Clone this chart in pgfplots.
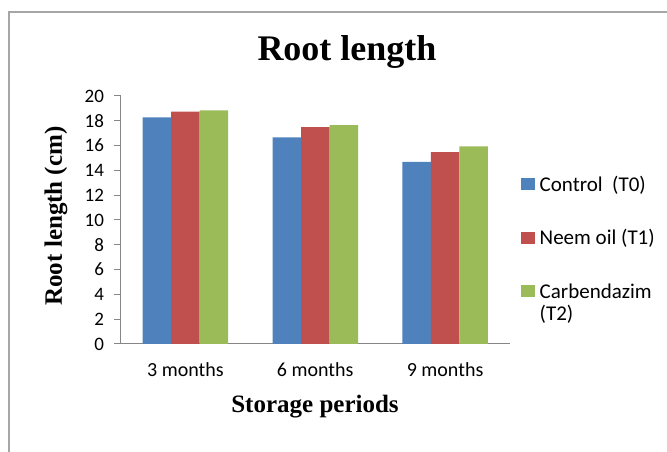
\documentclass[border=0pt]{standalone}
\usepackage{fontspec}
\setmainfont{Carlito}
\newfontfamily\tnr{Liberation Serif}
\usepackage{pgfplots}
\pgfplotsset{compat=1.18}
\definecolor{cblue}{HTML}{4F81BD}
\definecolor{cred}{HTML}{C0504D}
\definecolor{cgreen}{HTML}{9BBB59}
\definecolor{axgray}{HTML}{868686}
\definecolor{framegray}{HTML}{A6A6A6}
\begin{document}
\begin{tikzpicture}
\path[use as bounding box] (0pt,0pt) rectangle (667pt,452pt);
\draw[framegray, line width=2pt] (9pt,0pt) -- (9pt,440pt) -- (667pt,440pt);
\begin{axis}[
  at={(120.5pt,108pt)}, anchor=south west,
  scale only axis, width=389.5pt, height=248pt,
  ybar=0pt, bar width=28.5pt,
  xmin=-0.5, xmax=2.5, ymin=0, ymax=20,
  xtick=data, xticklabels={3 months,6 months,9 months},
  ytick={0,2,...,20},
  axis x line*=bottom, axis y line*=left,
  axis line style={axgray, line width=1pt, -},
  major x tick style={draw=none},
  ytick style={axgray, line width=1pt},
  tick align=outside, major tick length=6pt,
  /pgf/number format/assume math mode=true,
  yticklabel style={font=\fontsize{19}{22}\selectfont, xshift=-7pt},
  xticklabel style={font=\fontsize{20}{24}\selectfont, yshift=-9pt},
  legend style={draw=none, fill=none, at={(axis description cs:1,1)}, anchor=north west,
    xshift=8pt, yshift=-76pt, font=\fontsize{21}{25}\selectfont, row sep=34pt, column sep=3pt,
    nodes={inner sep=1.5pt}},
  legend cell align=left,
  legend image code/.code={\fill[#1] (0pt,-6pt) rectangle (14pt,6pt);},
]
\addplot[fill=cblue, draw=none] coordinates {(0,18.28) (1,16.67) (2,14.68)};
\addplot[fill=cred, draw=none] coordinates {(0,18.73) (1,17.48) (2,15.48)};
\addplot[fill=cgreen, draw=none] coordinates {(0,18.85) (1,17.66) (2,15.94)};
\addlegendentry{Control\ \ (T0)}
\addlegendentry{Neem oil (T1)}
\addlegendentry{\vtop{\baselineskip=22pt\hbox{Carbendazim}\hbox{(T2)}}}
\end{axis}
\node[anchor=base, font=\tnr\bfseries\fontsize{36}{40}\selectfont] at (347pt,391pt) {Root length};
\node[anchor=base, font=\tnr\bfseries\fontsize{25}{30}\selectfont] at (315pt,39pt) {Storage periods};
\node[rotate=90, font=\tnr\bfseries\fontsize{25}{30}\selectfont] at (56pt,236pt) {Root length (cm)};
\end{tikzpicture}
\end{document}
